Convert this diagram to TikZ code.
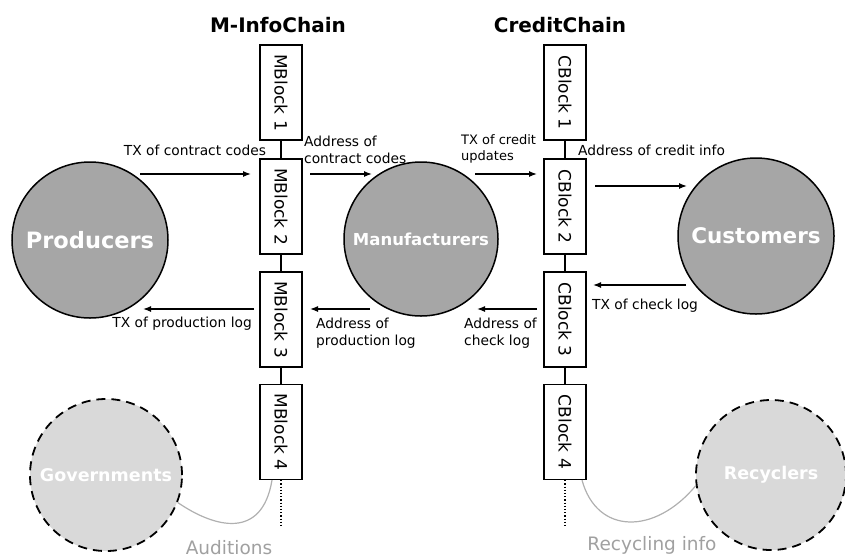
\documentclass[tikz,border=0pt]{standalone}
\usepackage{fontspec}
\setmainfont{DejaVu Sans}
\usetikzlibrary{arrows.meta,calc}
\definecolor{darkfill}{HTML}{A6A6A6}
\definecolor{lightfill}{HTML}{D9D9D9}
\definecolor{softline}{HTML}{B0B0B0}
\definecolor{softtext}{HTML}{A0A0A0}
\tikzset{
  blockbox/.style={draw, line width=1.2pt, rotate=-90, minimum width=95pt, minimum height=42pt, inner sep=0pt, font=\fontsize{17}{17}\selectfont},
  bigactor/.style={circle, draw, line width=1.5pt, fill=darkfill, minimum size=156pt, inner sep=0pt, text=white, font=\bfseries},
  lightactor/.style={circle, draw, dashed, dash pattern=on 9pt off 6pt, line width=1.8pt, fill=lightfill, minimum size=152pt, inner sep=0pt, text=white, font=\bfseries\fontsize{17.5}{18}\selectfont},
  flow/.style={line width=1.3pt, -{Latex[length=8pt,width=6pt]}},
  lbl/.style={font=\fontsize{13.8}{16.5}\selectfont, inner sep=0pt, align=left},
  chaintitle/.style={font=\bfseries\fontsize{20}{20}\selectfont},
  link/.style={line width=1.2pt},
  softlbl/.style={font=\fontsize{18.5}{19}\selectfont, text=softtext, inner sep=0pt},
}
\begin{document}
\begin{tikzpicture}[x=1pt,y=-1pt]
\useasboundingbox (0,0) rectangle (845,558);
% titles
\node[chaintitle] (t1) at (278,25) {M-InfoChain};
\node[chaintitle] (t2) at (560,25) {CreditChain};
% blocks
\node[blockbox] (m1) at (281,92.5) {MBlock 1};
\node[blockbox] (m2) at (281,206.5) {MBlock 2};
\node[blockbox] (m3) at (281,319.5) {MBlock 3};
\node[blockbox] (m4) at (281,432) {MBlock 4};
\node[blockbox] (c1) at (565,92.5) {CBlock 1};
\node[blockbox] (c2) at (565,206.5) {CBlock 2};
\node[blockbox] (c3) at (565,319.5) {CBlock 3};
\node[blockbox] (c4) at (565,432) {CBlock 4};
\draw[link] (m1.east) -- (m2.west);
\draw[link] (m2.east) -- (m3.west);
\draw[link] (m3.east) -- (m4.west);
\draw[link] (c1.east) -- (c2.west);
\draw[link] (c2.east) -- (c3.west);
\draw[link] (c3.east) -- (c4.west);
\coordinate (mend) at (281,525);
\coordinate (cend) at (565,525);
\draw[line width=1.2pt, dotted] (m4.east) -- (mend);
\draw[line width=1.2pt, dotted] (c4.east) -- (cend);
% actors
\node[bigactor, font=\bfseries\fontsize{22.5}{23}\selectfont] (prod) at (90,240) {Producers};
\node[bigactor, minimum size=154pt, font=\bfseries\fontsize{16.5}{17}\selectfont] (manu) at (421,239) {Manufacturers};
\node[bigactor, font=\bfseries\fontsize{21.5}{22}\selectfont] (cust) at (756,236) {Customers};
\node[lightactor] (gov) at (106,475) {Governments};
\node[lightactor, minimum size=150pt] (rec) at (771,475) {Recyclers};
% arrows
\coordinate (a1s) at (140,174); \coordinate (a1e) at (251,174);
\draw[flow] (a1s) -- (a1e);
\node[lbl] (l1) at (195,150) {TX of contract codes};
\coordinate (a2s) at (310,174); \coordinate (a2e) at (372,174);
\draw[flow] (a2s) -- (a2e);
\node[lbl, anchor=west] (l2) at (304,150) {Address of\\contract codes};
\coordinate (a3s) at (475,174); \coordinate (a3e) at (537,174);
\draw[flow] (a3s) -- (a3e);
\node[lbl, anchor=west, font=\fontsize{13}{16}\selectfont] (l3) at (461,149) {TX of credit\\updates};
\coordinate (a4s) at (595,186); \coordinate (a4e) at (687,186);
\draw[flow] (a4s) -- (a4e);
\node[lbl, anchor=west] (l4) at (578,150) {Address of credit info};
\coordinate (a5s) at (686,285); \coordinate (a5e) at (593,285);
\draw[flow] (a5s) -- (a5e);
\node[lbl, anchor=west] (l5) at (592,306) {TX of check log};
\coordinate (a6s) at (537,309); \coordinate (a6e) at (477,309);
\draw[flow] (a6s) -- (a6e);
\node[lbl, anchor=west] (l6) at (464,333) {Address of\\check log};
\coordinate (a7s) at (254,309); \coordinate (a7e) at (143,309);
\draw[flow] (a7s) -- (a7e);
\node[lbl, anchor=east] (l7) at (252,324) {TX of production log};
\coordinate (a8s) at (370,309); \coordinate (a8e) at (310,309);
\draw[flow] (a8s) -- (a8e);
\node[lbl, anchor=west] (l8) at (316,333) {Address of\\production log};
% soft links
\draw[softline, line width=1.2pt] ($(m4.east)+(-9,0)$) .. controls (262,540) and (215,528) .. (gov.-21);
\draw[softline, line width=1.2pt] ($(c4.east)+(17,0)$) .. controls (597,535) and (655,535) .. (rec.188);
\node[softlbl] (aud) at (229,548) {Auditions};
\node[softlbl] (recinfo) at (652,545) {Recycling info};
\end{tikzpicture}
\end{document}
